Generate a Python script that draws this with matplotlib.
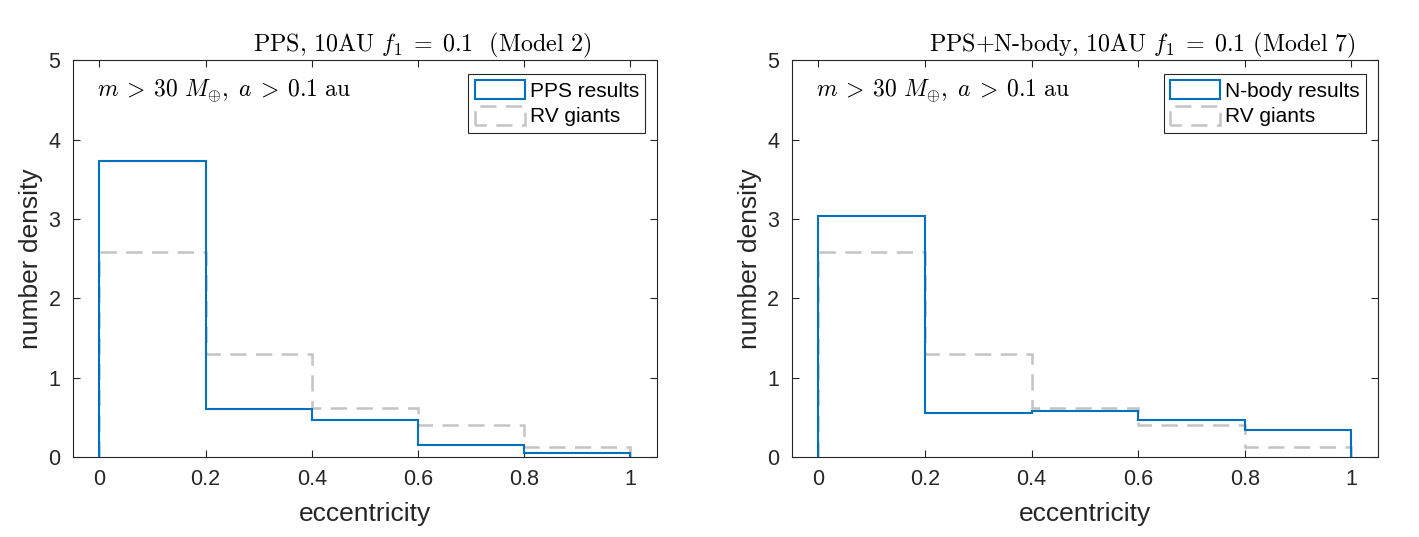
import numpy as np
import matplotlib
matplotlib.use("Agg")
import matplotlib.pyplot as plt
from matplotlib.patches import Rectangle

plt.rcParams['font.family'] = ['Liberation Sans', 'DejaVu Sans']
plt.rcParams['mathtext.fontset'] = 'cm'

# --- Data ---
edges = [0.0, 0.2, 0.4, 0.6, 0.8, 1.0]
pps_density = [3.73, 0.60, 0.47, 0.15, 0.05]
nbody_density = [3.04, 0.55, 0.58, 0.47, 0.34]
rv_density = [2.58, 1.30, 0.62, 0.40, 0.12]

titles = [r'PPS, 10AU $f_1\;=\;0.1$  (Model 2)',
          r'PPS+N-body, 10AU $f_1\;=\;0.1$ (Model 7)']
model_labels = ['PPS results', 'N-body results']
model_values = [pps_density, nbody_density]
xticks = [0, 0.2, 0.4, 0.6, 0.8, 1]
xticklabels = ['0', '0.2', '0.4', '0.6', '0.8', '1']

blue = '#0072BD'
gray = '#c4c4c4'
dark = '#262626'

fig = plt.figure(figsize=(14.19, 5.37), dpi=100)
positions = [[0.0514, 0.149, 0.4116, 0.739], [0.558, 0.149, 0.413, 0.739]]

for k in range(2):
    ax = fig.add_axes(positions[k])
    ax.stairs(rv_density, edges, baseline=0, color=gray, linewidth=1.8,
              linestyle=(0, (6.5, 3.8)), zorder=2)
    ax.stairs(model_values[k], edges, baseline=0, color=blue, linewidth=1.5,
              zorder=3)

    ax.set_xlim(-0.05, 1.05)
    ax.set_ylim(0, 5)
    ax.set_xticks(xticks)
    ax.set_xticklabels(xticklabels)
    ax.set_yticks([0, 1, 2, 3, 4, 5])
    ax.tick_params(direction='in', top=True, right=True, length=5, width=0.8,
                   labelsize=15.5, colors=dark, pad=9)
    for s in ax.spines.values():
        s.set_color(dark)
        s.set_linewidth(0.8)

    ax.set_xlabel('eccentricity', fontsize=19, color=dark, labelpad=8)
    ax.set_ylabel('number density', fontsize=19, color=dark, labelpad=4)
    ax.set_title(titles[k], fontsize=17.3, x=0.598, pad=6, family='cmr10')

    ax.text(0.041, 0.922, r'$m\:>\:30\ M_{\oplus},\ a\:>\:0.1\ \mathrm{au}$',
            transform=ax.transAxes, fontsize=17, va='center', ha='left')

    # legend shows the histogram outlines as boxes
    h1 = Rectangle((0, 0), 1, 1, facecolor='none', edgecolor=blue, linewidth=1.5)
    h2 = Rectangle((0, 0), 1, 1, facecolor='none', edgecolor=gray, linewidth=1.8,
                   linestyle=(2, (6.5, 3.8)))
    leg = ax.legend([h1, h2], [model_labels[k], 'RV giants'],
                    loc='upper right', bbox_to_anchor=(0.98, 0.965),
                    borderaxespad=0, fancybox=False, framealpha=1,
                    edgecolor=dark, fontsize=15, handlelength=2.4,
                    handleheight=1.0, handletextpad=0.25, borderpad=0.3,
                    labelspacing=0.25)
    leg.get_frame().set_linewidth(0.8)

fig.savefig('out.png', dpi=100)
